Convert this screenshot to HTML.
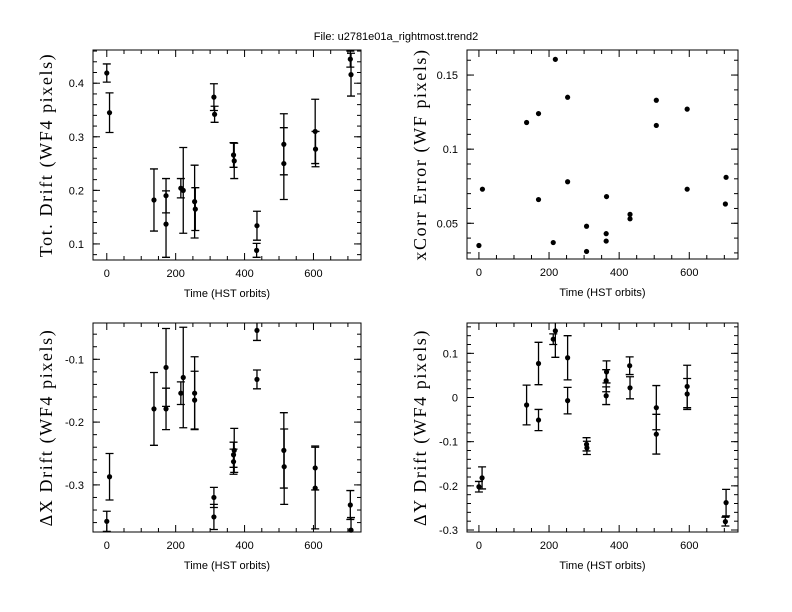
<!DOCTYPE html>
<html><head><meta charset="utf-8"><style>
body{margin:0;background:#fff}
svg{display:block}
.tl{font-family:"Liberation Sans",sans-serif;font-size:11px;fill:#000}
.yl{font-family:"Liberation Serif",serif;font-size:18px;letter-spacing:1.6px;fill:#000}
</style></head><body>
<svg id="c" width="792" height="612" viewBox="0 0 792 612" xmlns="http://www.w3.org/2000/svg">
<rect width="792" height="612" fill="#fff"/>
<text x="396" y="40" text-anchor="middle" class="tl">File: u2781e01a_rightmost.trend2</text>
</svg>
<script>
// Panel 1: Tot. Drift
const p1X=[0,8,137,172,172,215,222,255,257,311,313,368,370,436,435,514,514,605,606,707,709];
const p1Y=[0.419,0.345,0.182,0.19,0.137,0.204,0.2,0.179,0.165,0.374,0.342,0.266,0.255,0.134,0.088,0.286,0.25,0.31,0.277,0.445,0.416];
const p1E=[0.017,0.037,0.058,0.032,0.062,0.018,0.08,0.068,0.04,0.025,0.015,0.023,0.033,0.027,0.013,0.057,0.067,0.06,0.033,0.015,0.04];
// Panel 2: xCorr Error
const p2X=[0,10,136,170,170,212,218,253,253,307,307,363,363,364,431,431,506,506,594,594,705,703];
const p2Y=[0.035,0.073,0.118,0.124,0.066,0.037,0.1606,0.135,0.078,0.031,0.048,0.043,0.038,0.068,0.056,0.053,0.133,0.116,0.127,0.073,0.081,0.063];
// Panel 3: dX Drift
const p3X=[0,8,137,172,172,215,222,255,255,311,311,368,370,368,436,436,514,515,605,605,707,709];
const p3Y=[-0.358,-0.287,-0.179,-0.113,-0.179,-0.154,-0.129,-0.154,-0.165,-0.32,-0.351,-0.252,-0.245,-0.263,-0.054,-0.132,-0.245,-0.271,-0.273,-0.305,-0.332,-0.372];
const p3E=[0.016,0.037,0.058,0.062,0.033,0.018,0.08,0.058,0.046,0.016,0.02,0.02,0.035,0.02,0.016,0.015,0.06,0.06,0.035,0.065,0.023,0.02];
// Panel 4: dY Drift
const p4X=[0,9,136,170,170,212,218,253,253,307,308,364,363,363,430,431,506,506,594,594,705,703];
const p4Y=[-0.202,-0.182,-0.017,0.077,-0.051,0.132,0.151,0.09,-0.007,-0.106,-0.114,0.058,0.038,0.004,0.072,0.022,-0.023,-0.083,0.025,0.008,-0.238,-0.281];
const p4E=[0.012,0.025,0.045,0.048,0.024,0.012,0.06,0.05,0.03,0.015,0.015,0.025,0.025,0.02,0.02,0.025,0.05,0.045,0.048,0.035,0.03,0.01];
const xTicks=[0,200,400,600];
const p1Ticks=[0.1,0.2,0.3,0.4];
const p2Ticks=[0.05,0.1,0.15];
const p3Ticks=[-0.3,-0.2,-0.1];
const p4Ticks=[-0.3,-0.2,-0.1,0,0.1];

const svg=document.getElementById('c');
const NS='http://www.w3.org/2000/svg';
function mk(tag,attrs,parent){const e=document.createElementNS(NS,tag);for(const k in attrs)e.setAttribute(k,attrs[k]);(parent||svg).appendChild(e);return e;}

function panel(name,box,xd,yd,xs,ys,es,yTicks,minor,ylabel,fmt){
  const g=mk('g',{});
  
  
  const [L,T,R,B]=box;
  const sx=v=>L+(v-xd[0])/(xd[1]-xd[0])*(R-L);
  const sy=v=>B-(v-yd[0])/(yd[1]-yd[0])*(B-T);
  const fr=mk('rect',{x:L,y:T,width:R-L,height:B-T,fill:'none',stroke:'#000','stroke-width':1},g);
  
  
  for(let v=-50;v<=xd[1];v+=50){
    if(v<xd[0])continue;
    const x=sx(v),len=(v%200===0)?7:4;
    mk('line',{x1:x,y1:B,x2:x,y2:B-len,stroke:'#000'},g);
    mk('line',{x1:x,y1:T,x2:x,y2:T+len,stroke:'#000'},g);
  }
  xTicks.forEach(v=>{const t=mk('text',{x:sx(v),y:B+17,'text-anchor':'middle',class:'tl'},g);t.textContent=String(v);
    
    });
  const n0=Math.ceil(yd[0]/minor-1e-6),n1=Math.floor(yd[1]/minor+1e-6);
  for(let i=n0;i<=n1;i++){const y=sy(i*minor);
    mk('line',{x1:L,y1:y,x2:L+4,y2:y,stroke:'#000'},g);
    mk('line',{x1:R,y1:y,x2:R-4,y2:y,stroke:'#000'},g);}
  yTicks.forEach(v=>{const y=sy(v);
    mk('line',{x1:L,y1:y,x2:L+7,y2:y,stroke:'#000'},g);
    mk('line',{x1:R,y1:y,x2:R-7,y2:y,stroke:'#000'},g);
    const t=mk('text',{x:L-9,y:y+4,'text-anchor':'end',class:'tl'},g);t.textContent=fmt(v);
    
    });
  const xt=mk('text',{x:(L+R)/2,y:B+37,'text-anchor':'middle',class:'tl'},g);xt.textContent='Time (HST orbits)';
  
  
  const yt=mk('text',{x:0,y:0,'text-anchor':'middle',class:'yl',transform:`translate(${L-41},${(T+B)/2}) rotate(-90)`},g);yt.textContent=ylabel;
  
  
  xs.forEach((xv,i)=>{
    const x=sx(xv),y=sy(ys[i]);
    if(es){const e=es[i];const y1=Math.max(T,sy(ys[i]+e)),y2=Math.min(B,sy(ys[i]-e));
      const eb=mk('path',{d:`M${x},${y1}V${y2}`+(sy(ys[i]+e)>=T?`M${x-4},${y1}H${x+4}`:'')+(sy(ys[i]-e)<=B?`M${x-4},${y2}H${x+4}`:''),stroke:'#000','stroke-width':1.3,fill:'none'},g);
      
      }
    const c=mk('circle',{cx:x,cy:y,r:2.6,fill:'#000'},g);
    
    
  });
}
const f1=v=>String(+v.toFixed(2));
panel('tot-drift-panel',[93,50,361,260],[-40,738],[0.070,0.462],p1X,p1Y,p1E,p1Ticks,0.02,'Tot. Drift (WF4 pixels)',f1);
panel('xcorr-error-panel',[467,50,738,259],[-34,739],[0.0259,0.1669],p2X,p2Y,null,p2Ticks,0.01,'xCorr Error (WF pixels)',f1);
panel('dx-drift-panel',[93,323,361,532],[-40,738],[-0.375,-0.0422],p3X,p3Y,p3E,p3Ticks,0.02,'\u0394X Drift (WF4 pixels)',f1);
panel('dy-drift-panel',[467,323,738,532],[-34,739],[-0.3045,0.1687],p4X,p4Y,p4E,p4Ticks,0.02,'\u0394Y Drift (WF4 pixels)',f1);
</script>
</body></html>
